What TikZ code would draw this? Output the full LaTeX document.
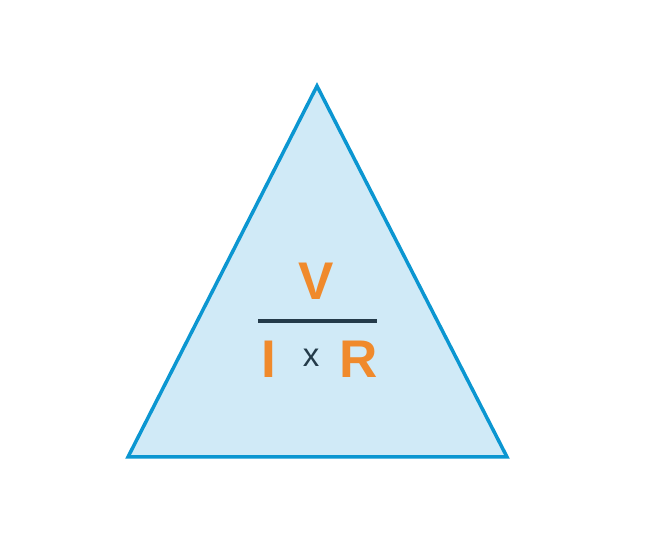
\documentclass[tikz,border=0pt]{standalone}
\usepackage{fontspec}
\setmainfont{Liberation Sans}
\usepackage{tikz}
\usepackage{xcolor}
\usetikzlibrary{positioning}
\definecolor{edgeblue}{RGB}{11,150,209}
\definecolor{paleblue}{RGB}{208,234,247}
\definecolor{ohmorange}{RGB}{240,138,44}
\definecolor{slatedark}{RGB}{36,59,74}

\begin{document}
\begin{tikzpicture}[x=1pt, y=1pt,
  bigletter/.style={text=ohmorange, font=\fontsize{53}{53}\selectfont\bfseries, inner sep=0pt, anchor=base},
  timesmark/.style={text=slatedark, font=\fontsize{33}{33}\selectfont, inner sep=0pt, anchor=base}]
\useasboundingbox (0,0) rectangle (653,556);
\coordinate (apex) at (317,470);
\coordinate (baseL) at (128,99);
\coordinate (baseR) at (507,99);
\draw[line width=3.5pt, edgeblue, fill=paleblue, line join=miter] (apex) -- (baseR) -- (baseL) -- cycle;
\coordinate (barL) at (258,235);
\coordinate (barR) at (377,235);
\draw[line width=4.5pt, slatedark] (barL) -- (barR);
\node[bigletter] (volt) at (316,256) {V};
\node[bigletter] (curr) at (269,178) {I};
\node[timesmark] (times) at (311,189) {x};
\node[bigletter] (resist) at (359,178) {R};
\end{tikzpicture}
\end{document}
